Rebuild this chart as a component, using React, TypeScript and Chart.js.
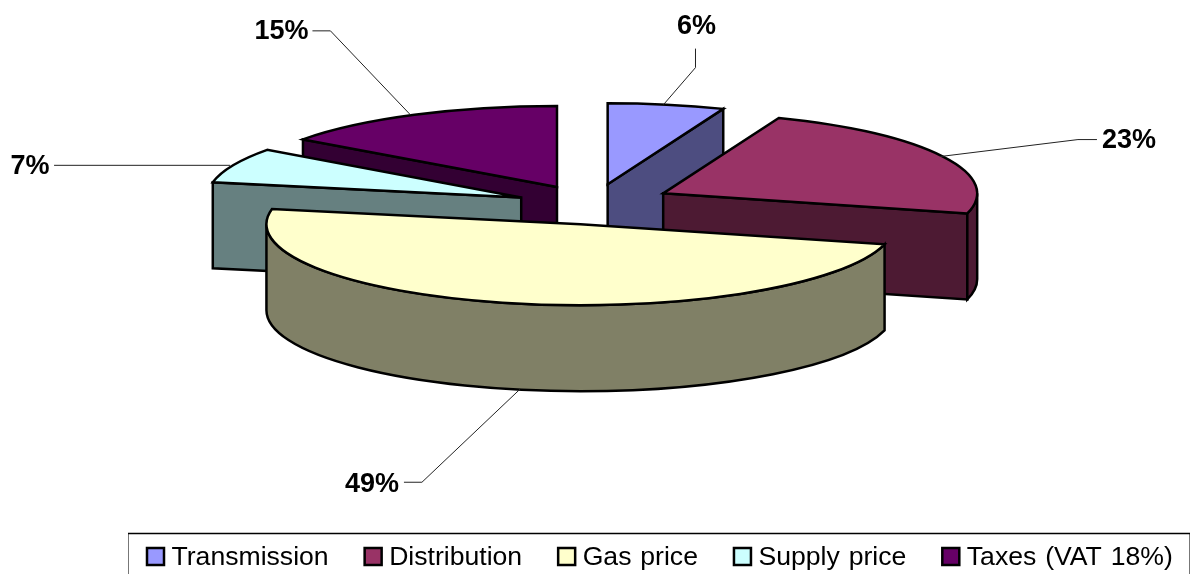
import React, { useEffect, useRef } from "react";
import { Chart, registerables } from "chart.js";

Chart.register(...registerables);

// Share of the end-user gas price, in percent.
const categories = ["Transmission", "Distribution", "Gas price", "Supply price", "Taxes (VAT 18%)"];
const shares = [6, 23, 49, 7, 15];
const sliceColors = ["#9999FF", "#993366", "#FFFFCC", "#CCFFFF", "#660066"];

// Fine placement of each exploded slice on the tilted plane, in pixels.
const sliceNudge = [
  [0, 0],
  [0.5, -1.5],
  [4.5, 0.5],
  [0, 1.5],
  [-0.5, 1],
];

// Callout geometry relative to the slice's anchor point.
// anchor: shift of the leader's start; elbow: bend of the leader; end: where it stops; text: label centre.
const calloutLayout = [
  { anchor: [-3, 0], elbow: [32, -37], end: [32, -56], text: [33, -79] },
  { anchor: [-3, 0], elbow: [138, -17], end: [157, -17], text: [189, -17] },
  { anchor: [8, 0], elbow: [-98, 93], end: [-116, 93], text: [-148, 94] },
  { anchor: [-3, 0], elbow: [-3, 0], end: [-176, 0], text: [-200, 0] },
  { anchor: [-4, 0], elbow: [-80, -84], end: [-98, -84], text: [-129, -84] },
];

const FONT = '"Liberation Sans", Arial, sans-serif';
const RX = 314; // on-screen horizontal radius of the tilted pie
const RY = 81; // on-screen vertical radius
const DEPTH = 86; // height of the extruded wall

const halfShade = (hex: string) => {
  const n = parseInt(hex.slice(1), 16);
  const c = [(n >> 16) & 255, (n >> 8) & 255, n & 255].map((v) => Math.round(v / 2));
  return `rgb(${c[0]},${c[1]},${c[2]})`;
};

// Projects each arc of the pie controller onto a tilted plane and extrudes it.
const tiltedPie = {
  id: "tiltedPie",
  beforeDatasetsDraw(chart: any) {
    const { ctx } = chart;
    const arcs = chart.getDatasetMeta(0).data;
    const slices = arcs.map((arc: any, index: number) => {
      const p = arc.getProps(["x", "y", "startAngle", "endAngle", "outerRadius"], true);
      const mid = (p.startAngle + p.endAngle) / 2;
      const sx = RX / p.outerRadius;
      const sy = RY / p.outerRadius;
      const shift = (arc.options.offset || 0) / 4;
      return {
        index,
        mid,
        start: p.startAngle,
        end: p.endAngle,
        color: arc.options.backgroundColor,
        cx: p.x + Math.cos(mid) * shift * sx + sliceNudge[index][0],
        cy: p.y + Math.sin(mid) * shift * sy + sliceNudge[index][1],
      };
    });
    chart.$slices = slices;

    ctx.save();
    ctx.lineWidth = 2.5;
    ctx.strokeStyle = "#000";
    ctx.lineJoin = "miter";
    // Back slices first; the painter's order is given by depth along the view axis.
    [...slices]
      .sort((a: any, b: any) => Math.sin(a.mid) - Math.sin(b.mid))
      .forEach((s: any) => {
        const edge = (t: number) => [s.cx + RX * Math.cos(t), s.cy + RY * Math.sin(t)];
        const side = halfShade(s.color);

        const radialWall = (t: number) => {
          const [ex, ey] = edge(t);
          ctx.beginPath();
          ctx.moveTo(s.cx, s.cy);
          ctx.lineTo(ex, ey);
          ctx.lineTo(ex, ey + DEPTH);
          ctx.lineTo(s.cx, s.cy + DEPTH);
          ctx.closePath();
          ctx.fillStyle = side;
          ctx.fill();
          ctx.stroke();
        };

        if (Math.cos(s.start) < -1e-6) radialWall(s.start);
        if (Math.cos(s.end) > 1e-6) radialWall(s.end);

        const from = Math.max(s.start, 0);
        const to = Math.min(s.end, Math.PI);
        if (to > from) {
          ctx.beginPath();
          ctx.ellipse(s.cx, s.cy, RX, RY, 0, from, to);
          ctx.ellipse(s.cx, s.cy + DEPTH, RX, RY, 0, to, from, true);
          ctx.closePath();
          ctx.fillStyle = side;
          ctx.fill();
          ctx.stroke();
        }

        ctx.beginPath();
        ctx.moveTo(s.cx, s.cy);
        ctx.ellipse(s.cx, s.cy, RX, RY, 0, s.start, s.end);
        ctx.closePath();
        ctx.fillStyle = s.color;
        ctx.fill();
        ctx.stroke();
      });
    ctx.restore();
    return false;
  },
  afterDraw(chart: any) {
    const { ctx, data } = chart;
    ctx.save();

    // Percentage callouts with their leader lines.
    (chart.$slices || []).forEach((s: any) => {
      const layout = calloutLayout[s.index];
      const front = Math.sin(s.mid) > 0 && Math.abs(Math.cos(s.mid)) < 0.5 ? DEPTH : 0;
      const ax = s.cx + RX * Math.cos(s.mid) + layout.anchor[0];
      const ay = s.cy + RY * Math.sin(s.mid) + front + layout.anchor[1];
      ctx.beginPath();
      ctx.moveTo(ax, ay);
      ctx.lineTo(ax + layout.elbow[0], ay + layout.elbow[1]);
      ctx.lineTo(ax + layout.end[0], ay + layout.end[1]);
      ctx.strokeStyle = "#222";
      ctx.lineWidth = 1;
      ctx.stroke();
      ctx.fillStyle = "#000";
      ctx.font = `bold 27px ${FONT}`;
      ctx.textAlign = "center";
      ctx.textBaseline = "middle";
      ctx.fillText(`${data.datasets[0].data[s.index]}%`, ax + layout.text[0], ay + layout.text[1] + 1);
    });

    // Legend frame runs off the bottom of the canvas.
    ctx.strokeStyle = "#777";
    ctx.lineWidth = 1;
    ctx.beginPath();
    ctx.moveTo(128.5, 533);
    ctx.lineTo(128.5, 574);
    ctx.moveTo(1189.5, 533);
    ctx.lineTo(1189.5, 574);
    ctx.stroke();
    ctx.strokeStyle = "#000";
    ctx.lineWidth = 1.5;
    ctx.beginPath();
    ctx.moveTo(128, 533.5);
    ctx.lineTo(1190, 533.5);
    ctx.stroke();

    // Legend entries.
    ctx.font = `26.6px ${FONT}`;
    ctx.wordSpacing = "1.5px";
    ctx.textAlign = "left";
    ctx.textBaseline = "alphabetic";
    let x = 146;
    data.labels.forEach((label: string, i: number) => {
      ctx.fillStyle = data.datasets[0].backgroundColor[i];
      ctx.strokeStyle = "#000";
      ctx.lineWidth = 2.5;
      ctx.fillRect(x + 1, 548, 17, 17);
      ctx.strokeRect(x + 1, 548, 17, 17);
      ctx.fillStyle = "#000";
      ctx.fillText(label, x + 25.5, 565);
      x += ctx.measureText(label).width + 60.5;
    });
    ctx.restore();
  },
};

export default function App() {
  const ref = useRef<HTMLCanvasElement>(null);
  useEffect(() => {
    const chart = new Chart(ref.current as HTMLCanvasElement, {
      type: "pie",
      data: {
        labels: categories,
        datasets: [
          {
            data: shares,
            backgroundColor: sliceColors,
            borderWidth: 2,
            borderColor: "#000",
            offset: 135,
          },
        ],
      },
      options: {
        animation: false,
        responsive: false,
        layout: { padding: { left: 0, right: 12, top: 0, bottom: 166 } },
        plugins: { legend: { display: false }, tooltip: { enabled: false } },
      },
      plugins: [tiltedPie],
    } as any);
    return () => chart.destroy();
  }, []);
  return (
    <canvas
      ref={ref}
      width={1198}
      height={574}
      style={{ position: "absolute", left: 0, top: 0, display: "block" }}
    />
  );
}
